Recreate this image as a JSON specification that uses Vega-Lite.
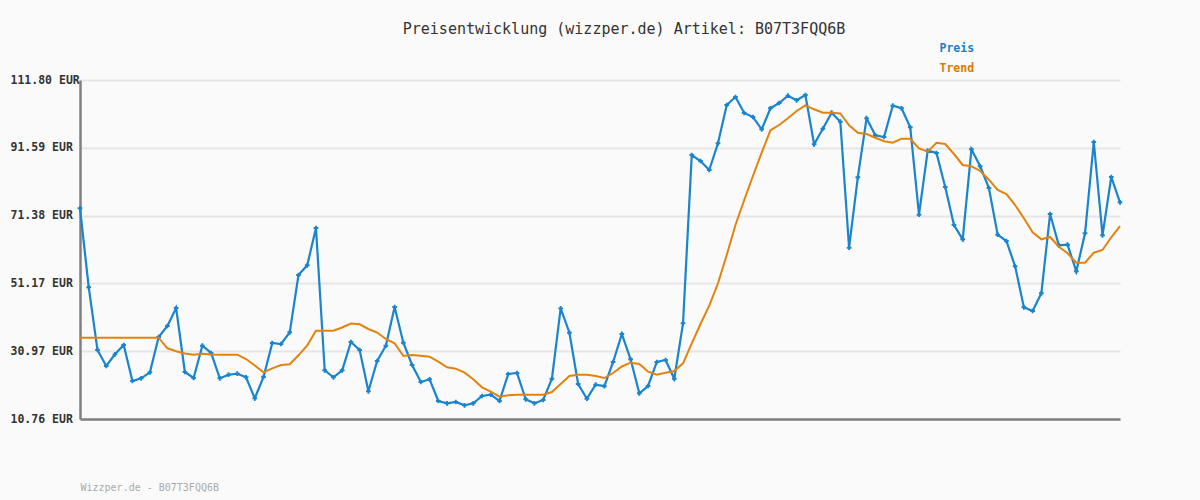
{
  "$schema": "https://vega.github.io/schema/vega-lite/v6.json",
  "width": 1040,
  "height": 339,
  "autosize": {"type": "none"},
  "padding": {"left": 80, "top": 80, "right": 80, "bottom": 81},
  "background": "#fafafa",
  "title": {
    "text": "Preisentwicklung (wizzper.de) Artikel: B07T3FQQ6B",
    "font": "DejaVu Sans Mono",
    "fontSize": 15,
    "fontWeight": "normal",
    "color": "#333333",
    "anchor": "middle",
    "frame": "group",
    "dx": 24,
    "offset": 6
  },
  "config": {
    "view": {"stroke": null},
    "axis": {"labelFont": "DejaVu Sans Mono"}
  },
  "data": {
    "values": [
      {"i": 0, "preis": 73.56, "trend": 34.99},
      {"i": 1, "preis": 50.01, "trend": 34.99},
      {"i": 2, "preis": 31.33, "trend": 34.99},
      {"i": 3, "preis": 26.56, "trend": 34.99},
      {"i": 4, "preis": 30.04, "trend": 34.99},
      {"i": 5, "preis": 32.82, "trend": 34.99},
      {"i": 6, "preis": 22.09, "trend": 34.99},
      {"i": 7, "preis": 22.89, "trend": 34.99},
      {"i": 8, "preis": 24.68, "trend": 34.99},
      {"i": 9, "preis": 35.20, "trend": 34.99},
      {"i": 10, "preis": 38.48, "trend": 31.83},
      {"i": 11, "preis": 43.84, "trend": 30.94},
      {"i": 12, "preis": 24.77, "trend": 30.28},
      {"i": 13, "preis": 22.98, "trend": 29.93},
      {"i": 14, "preis": 32.61, "trend": 30.22},
      {"i": 15, "preis": 30.43, "trend": 29.98},
      {"i": 16, "preis": 22.89, "trend": 29.93},
      {"i": 17, "preis": 23.96, "trend": 29.93},
      {"i": 18, "preis": 24.26, "trend": 29.93},
      {"i": 19, "preis": 23.19, "trend": 28.64},
      {"i": 20, "preis": 16.93, "trend": 26.71},
      {"i": 21, "preis": 23.28, "trend": 24.68},
      {"i": 22, "preis": 33.41, "trend": 25.87},
      {"i": 23, "preis": 33.11, "trend": 26.86},
      {"i": 24, "preis": 36.60, "trend": 27.06},
      {"i": 25, "preis": 53.68, "trend": 29.75},
      {"i": 26, "preis": 56.57, "trend": 32.73},
      {"i": 27, "preis": 67.69, "trend": 37.08},
      {"i": 28, "preis": 25.28, "trend": 37.08},
      {"i": 29, "preis": 23.19, "trend": 37.08},
      {"i": 30, "preis": 25.28, "trend": 38.03},
      {"i": 31, "preis": 33.71, "trend": 39.23},
      {"i": 32, "preis": 31.33, "trend": 38.99},
      {"i": 33, "preis": 19.02, "trend": 37.59},
      {"i": 34, "preis": 28.05, "trend": 36.54},
      {"i": 35, "preis": 32.61, "trend": 34.61},
      {"i": 36, "preis": 44.14, "trend": 33.32},
      {"i": 37, "preis": 33.50, "trend": 29.54},
      {"i": 38, "preis": 26.86, "trend": 29.84},
      {"i": 39, "preis": 21.79, "trend": 29.60},
      {"i": 40, "preis": 22.59, "trend": 29.33},
      {"i": 41, "preis": 16.13, "trend": 27.84},
      {"i": 42, "preis": 15.44, "trend": 26.17},
      {"i": 43, "preis": 15.83, "trend": 25.75},
      {"i": 44, "preis": 14.84, "trend": 24.56},
      {"i": 45, "preis": 15.44, "trend": 22.59},
      {"i": 46, "preis": 17.62, "trend": 20.21},
      {"i": 47, "preis": 18.00, "trend": 18.90},
      {"i": 48, "preis": 16.13, "trend": 17.41},
      {"i": 49, "preis": 24.17, "trend": 17.82},
      {"i": 50, "preis": 24.47, "trend": 18.00},
      {"i": 51, "preis": 16.63, "trend": 18.00},
      {"i": 52, "preis": 15.44, "trend": 18.00},
      {"i": 53, "preis": 16.42, "trend": 18.00},
      {"i": 54, "preis": 22.77, "trend": 18.81},
      {"i": 55, "preis": 43.75, "trend": 21.19},
      {"i": 56, "preis": 36.48, "trend": 23.58},
      {"i": 57, "preis": 21.19, "trend": 23.96},
      {"i": 58, "preis": 16.81, "trend": 23.96},
      {"i": 59, "preis": 20.98, "trend": 23.58},
      {"i": 60, "preis": 20.54, "trend": 22.98},
      {"i": 61, "preis": 27.75, "trend": 24.47},
      {"i": 62, "preis": 36.10, "trend": 26.41},
      {"i": 63, "preis": 28.55, "trend": 27.54},
      {"i": 64, "preis": 18.42, "trend": 27.15},
      {"i": 65, "preis": 20.60, "trend": 24.86},
      {"i": 66, "preis": 27.75, "trend": 23.96},
      {"i": 67, "preis": 28.35, "trend": 24.56},
      {"i": 68, "preis": 22.77, "trend": 25.07},
      {"i": 69, "preis": 39.28, "trend": 27.36},
      {"i": 70, "preis": 89.45, "trend": 33.32},
      {"i": 71, "preis": 87.66, "trend": 39.08},
      {"i": 72, "preis": 84.98, "trend": 44.53},
      {"i": 73, "preis": 92.93, "trend": 51.21},
      {"i": 74, "preis": 104.35, "trend": 59.64},
      {"i": 75, "preis": 106.73, "trend": 68.58},
      {"i": 76, "preis": 101.96, "trend": 76.03},
      {"i": 77, "preis": 100.77, "trend": 83.19},
      {"i": 78, "preis": 97.11, "trend": 90.13},
      {"i": 79, "preis": 103.37, "trend": 96.81},
      {"i": 80, "preis": 104.94, "trend": 98.39},
      {"i": 81, "preis": 107.12, "trend": 100.38},
      {"i": 82, "preis": 105.75, "trend": 102.56},
      {"i": 83, "preis": 107.33, "trend": 104.26},
      {"i": 84, "preis": 92.64, "trend": 103.07},
      {"i": 85, "preis": 97.28, "trend": 102.05},
      {"i": 86, "preis": 102.05, "trend": 102.05},
      {"i": 87, "preis": 99.37, "trend": 101.82},
      {"i": 88, "preis": 61.82, "trend": 98.30},
      {"i": 89, "preis": 82.80, "trend": 96.09},
      {"i": 90, "preis": 100.38, "trend": 95.71},
      {"i": 91, "preis": 95.32, "trend": 94.60},
      {"i": 92, "preis": 94.81, "trend": 93.53},
      {"i": 93, "preis": 104.14, "trend": 93.11},
      {"i": 94, "preis": 103.37, "trend": 94.30},
      {"i": 95, "preis": 97.70, "trend": 94.30},
      {"i": 96, "preis": 71.65, "trend": 91.44},
      {"i": 97, "preis": 90.73, "trend": 90.43},
      {"i": 98, "preis": 90.04, "trend": 93.11},
      {"i": 99, "preis": 79.91, "trend": 92.72},
      {"i": 100, "preis": 68.58, "trend": 89.74},
      {"i": 101, "preis": 64.32, "trend": 86.47},
      {"i": 102, "preis": 91.15, "trend": 86.08},
      {"i": 103, "preis": 86.08, "trend": 84.68},
      {"i": 104, "preis": 79.61, "trend": 82.08},
      {"i": 105, "preis": 65.69, "trend": 79.01},
      {"i": 106, "preis": 63.81, "trend": 77.82},
      {"i": 107, "preis": 56.27, "trend": 74.54},
      {"i": 108, "preis": 44.05, "trend": 70.58},
      {"i": 109, "preis": 42.95, "trend": 66.41},
      {"i": 110, "preis": 48.23, "trend": 64.32},
      {"i": 111, "preis": 71.86, "trend": 65.01},
      {"i": 112, "preis": 62.53, "trend": 62.11},
      {"i": 113, "preis": 62.71, "trend": 60.15},
      {"i": 114, "preis": 54.78, "trend": 57.35},
      {"i": 115, "preis": 66.11, "trend": 57.35},
      {"i": 116, "preis": 93.32, "trend": 60.33},
      {"i": 117, "preis": 65.51, "trend": 61.13},
      {"i": 118, "preis": 82.89, "trend": 64.92},
      {"i": 119, "preis": 75.35, "trend": 68.28}
    ]
  },
  "encoding": {
    "x": {
      "field": "i",
      "type": "quantitative",
      "scale": {"domain": [0, 119], "nice": false, "zero": false},
      "axis": {
        "labels": false,
        "ticks": false,
        "grid": false,
        "domainColor": "#808080",
        "domainWidth": 2.5,
        "title": "Wizzper.de - B07T3FQQ6B",
        "titleFont": "DejaVu Sans Mono",
        "titleFontSize": 10,
        "titleFontWeight": "normal",
        "titleColor": "#aaaaaa",
        "titleAnchor": "start",
        "titleAlign": "left",
        "titleBaseline": "middle",
        "titleX": 0,
        "titleY": 68
      }
    }
  },
  "layer": [
    {
      "mark": {"type": "line", "strokeWidth": 2.2, "clip": false},
      "encoding": {
        "y": {
          "field": "preis",
          "type": "quantitative",
          "scale": {"domain": [10.76, 111.80], "nice": false, "zero": false},
          "axis": {
            "values": [10.76, 30.97, 51.17, 71.38, 91.59, 111.80],
            "labelExpr": "format(datum.value, '.2f') + ' EUR'",
            "labelFont": "DejaVu Sans Mono",
            "labelFontSize": 11.5,
            "labelFontWeight": "bold",
            "labelColor": "#333333",
            "labelAlign": "left",
            "labelBaseline": "middle",
            "labelPadding": 70,
            "ticks": false,
            "tickSize": 0,
            "domainColor": "#808080",
            "domainWidth": 2.5,
            "gridColor": "#e6e6e6",
            "gridWidth": 2,
            "title": null
          }
        },
        "color": {
          "datum": "Preis",
          "type": "nominal",
          "scale": {"domain": ["Preis", "Trend"], "range": ["#1a84cc", "#e3830f"]},
          "legend": {
            "orient": "none",
            "legendX": 848,
            "legendY": -37,
            "title": null,
            "symbolOpacity": 0,
            "symbolSize": 0,
            "symbolStrokeWidth": 0,
            "labelOffset": 0,
            "labelFont": "DejaVu Sans Mono",
            "labelFontSize": 11.5,
            "labelFontWeight": "bold",
            "rowPadding": 7,
            "encode": {
              "labels": {
                "update": {
                  "fill": {"signal": "datum.value === 'Preis' ? '#1a7fc4' : '#dd7a00'"}
                }
              }
            }
          }
        }
      }
    },
    {
      "mark": {"type": "point", "shape": "cross", "filled": true, "size": 22, "opacity": 1, "clip": false},
      "encoding": {
        "y": {"field": "preis", "type": "quantitative"},
        "color": {"datum": "Preis", "type": "nominal"}
      }
    },
    {
      "mark": {"type": "line", "strokeWidth": 2, "clip": false},
      "encoding": {
        "y": {"field": "trend", "type": "quantitative"},
        "color": {"datum": "Trend", "type": "nominal"}
      }
    }
  ]
}
